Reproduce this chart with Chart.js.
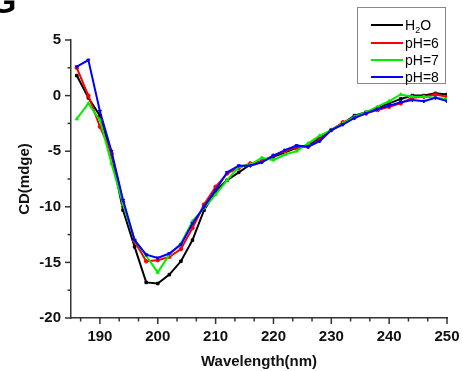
<!DOCTYPE html>
<html>
<head>
<meta charset="utf-8">
<script src="https://cdn.jsdelivr.net/npm/chart.js@4/dist/chart.umd.min.js"></script>
<style>
  html, body { margin: 0; padding: 0; background: #fff; }
  #wrap { position: relative; width: 463px; height: 371px; overflow: hidden; font-family: "Liberation Sans", Arial, sans-serif; }
  #c { position: absolute; left: 0; top: 0; }
  #panel { position: absolute; left: -10px; top: -18px; font: bold 34px "Liberation Sans", Arial, sans-serif; color: #000; }
  #legend { position: absolute; left: 357px; top: 7px; width: 89px; height: 77px; border: 1px solid #888; box-sizing: border-box; background: #fff; }
  .row { position: absolute; left: 13px; height: 16px; font: 14px "Liberation Sans", Arial, sans-serif; color: #000; line-height: 16px; white-space: nowrap; }
  .sw { display: inline-block; width: 32px; height: 2px; vertical-align: middle; margin-right: 2px; position: relative; top: -1px; }
  sub { font-size: 9px; vertical-align: -3px; line-height: 0; }
</style>
</head>
<body>
<div id="wrap">
  <canvas id="c" width="463" height="371"></canvas>
  <div id="panel">G</div>
  <div id="legend"></div>
</div>
<script>
const wavelengths = [186,188,190,192,194,196,198,200,202,204,206,208,210,212,214,216,218,220,222,224,226,228,230,232,234,236,238,240,242,244,246,248,250];
const h2o = [1.8,-0.2,-1.8,-5.3,-10.3,-13.6,-16.8,-16.9,-16.1,-14.9,-13.0,-10.3,-8.6,-7.6,-6.9,-6.2,-5.9,-5.5,-5.1,-4.7,-4.5,-3.8,-3.1,-2.5,-1.8,-1.5,-1.1,-0.7,-0.3,0.0,0.0,0.2,0.1];
const ph6 = [2.5,0.0,-2.8,-5.2,-9.6,-13.1,-14.9,-14.8,-14.5,-13.8,-11.9,-9.8,-8.2,-7.0,-6.5,-6.1,-5.9,-5.4,-5.0,-4.6,-4.6,-4.0,-3.1,-2.4,-2.0,-1.6,-1.3,-1.0,-0.7,-0.2,-0.1,0.1,-0.1];
const ph7 = [-2.1,-0.7,-2.2,-6.1,-9.8,-13.0,-14.4,-15.9,-14.3,-13.3,-11.3,-10.1,-8.9,-7.6,-6.4,-6.2,-5.6,-5.8,-5.3,-5.0,-4.3,-3.6,-3.1,-2.5,-1.9,-1.5,-1.0,-0.5,0.1,-0.1,-0.1,-0.2,-0.3];
const ph8 = [2.6,3.2,-1.4,-5.0,-9.4,-13.0,-14.3,-14.6,-14.2,-13.4,-11.5,-10.0,-8.5,-6.9,-6.3,-6.3,-6.0,-5.4,-4.9,-4.5,-4.6,-4.1,-3.1,-2.6,-2.0,-1.6,-1.2,-0.9,-0.6,-0.4,-0.5,-0.2,-0.5];
const seriesLabels = ["H\u2082O", "pH=6", "pH=7", "pH=8"];
const seriesLegendHtml = ["H<sub>2</sub>O", "pH=6", "pH=7", "pH=8"];
const seriesColors = ["#000000", "#ff0000", "#00ee00", "#0000ff"];
const xTicks = [190, 200, 210, 220, 230, 240, 250];
const yTicks = [5, 0, -5, -10, -15, -20];
const xTitle = "Wavelength(nm)";
const yTitle = "CD(mdge)";

const seriesValues = [h2o, ph6, ph7, ph8];
const pointStyles = ["rect", "circle", "triangle", "triangle"];
const pointRotations = [0, 0, 0, 180];
const drawOrder = [3, 2, 1, 0];

const datasets = seriesValues.map((vals, i) => ({
  label: seriesLabels[i],
  data: vals.map((v, k) => ({ x: wavelengths[k], y: v })),
  borderColor: seriesColors[i],
  backgroundColor: seriesColors[i],
  borderWidth: 2,
  pointStyle: pointStyles[i],
  pointRotation: pointRotations[i],
  pointRadius: 1.8,
  pointBorderWidth: 1,
  tension: 0,
  order: drawOrder[i]
}));

// legend
const leg = document.getElementById('legend');
const rowTops = [9, 27, 44, 61];
seriesLegendHtml.forEach((h, i) => {
  const r = document.createElement('div');
  r.className = 'row';
  r.style.top = rowTops[i] + 'px';
  r.innerHTML = '<span class="sw" style="background:' + seriesColors[i] + '"></span>' + h;
  leg.appendChild(r);
});

const axisColor = '#333';
const tickPlugin = {
  id: 'originTicks',
  afterDraw(chart) {
    const ctx = chart.ctx;
    const xs = chart.scales.x, ys = chart.scales.y;
    const area = chart.chartArea;
    ctx.save();
    ctx.strokeStyle = axisColor;
    ctx.lineWidth = 1.5;
    const xMin = xs.min, xMax = xs.max;
    for (let m = 180; m <= 250; m += 10) {
      const list = [[m, 6], [m + 10/3, 3.5], [m + 20/3, 3.5]];
      list.forEach(([v, len]) => {
        if (v < xMin - 0.01 || v > xMax + 0.01) return;
        const px = xs.getPixelForValue(v);
        ctx.beginPath();
        ctx.moveTo(px, area.bottom);
        ctx.lineTo(px, area.bottom + len);
        ctx.stroke();
      });
    }
    for (let m = -20; m <= 5; m += 5) {
      const list = [[m, 6], [m + 2.5, 3.5]];
      list.forEach(([v, len]) => {
        if (v < ys.min - 0.01 || v > ys.max + 0.01) return;
        const py = ys.getPixelForValue(v);
        ctx.beginPath();
        ctx.moveTo(area.left, py);
        ctx.lineTo(area.left - len, py);
        ctx.stroke();
      });
    }
    ctx.restore();
  }
};

new Chart(document.getElementById('c'), {
  type: 'line',
  data: { datasets },
  options: {
    responsive: false,
    animation: false,
    devicePixelRatio: 1,
    layout: { padding: { left: 0, right: 16, top: 40, bottom: 0 } },
    plugins: { legend: { display: false }, tooltip: { enabled: false } },
    scales: {
      x: {
        type: 'linear',
        min: 185, max: 250,
        afterBuildTicks: s => { s.ticks = xTicks.map(v => ({ value: v })); },
        afterFit: s => { s.height = 53; s.paddingRight = 0; s.paddingLeft = 0; },
        grid: { display: false, drawTicks: false },
        border: { display: true, color: axisColor, width: 1.5 },
        ticks: { padding: 10, color: '#111', font: { family: '"Liberation Sans", Arial, sans-serif', size: 15, weight: 'bold' }, maxRotation: 0, autoSkip: false },
        title: { display: true, text: xTitle, color: '#111', padding: { top: 2, bottom: 0 }, font: { family: '"Liberation Sans", Arial, sans-serif', size: 15, weight: 'bold' } }
      },
      y: {
        type: 'linear',
        min: -20, max: 5,
        afterBuildTicks: s => { s.ticks = yTicks.map(v => ({ value: v })); },
        afterFit: s => { s.width = 71; s.paddingTop = 0; s.paddingBottom = 0; },
        grid: { display: false, drawTicks: false },
        border: { display: true, color: axisColor, width: 1.5 },
        ticks: { padding: 10, color: '#111', font: { family: '"Liberation Sans", Arial, sans-serif', size: 15, weight: 'bold' } },
        title: { display: true, text: yTitle, color: '#111', padding: { top: 16, bottom: 0 }, font: { family: '"Liberation Sans", Arial, sans-serif', size: 15, weight: 'bold' } }
      }
    }
  },
  plugins: [tickPlugin]
});
</script>
</body>
</html>
